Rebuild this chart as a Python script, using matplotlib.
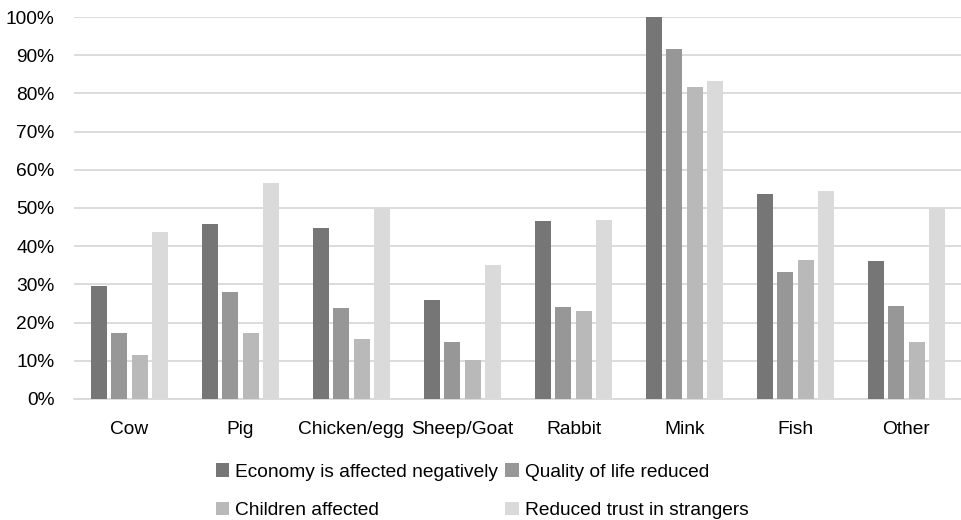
import matplotlib
matplotlib.use("Agg")
import matplotlib.pyplot as plt
from matplotlib.patches import Patch
from matplotlib.ticker import PercentFormatter
import numpy as np

plt.rcParams["font.family"] = ["Liberation Sans", "DejaVu Sans"]

categories = ["Cow", "Pig", "Chicken/egg", "Sheep/Goat", "Rabbit", "Mink", "Fish", "Other"]
economy = [29.6, 45.9, 44.7, 25.8, 46.6, 100.0, 53.7, 36.1]
quality = [17.4, 27.9, 23.8, 14.9, 24.0, 91.6, 33.2, 24.3]
children = [11.5, 17.4, 15.7, 10.2, 23.0, 81.8, 36.3, 14.8]
trust = [43.7, 56.5, 50.0, 35.2, 46.9, 83.2, 54.5, 50.0]

series = [
    ("Economy is affected negatively", economy, "#767676"),
    ("Quality of life reduced", quality, "#979797"),
    ("Children affected", children, "#b9b9b9"),
    ("Reduced trust in strangers", trust, "#dadada"),
]

fig = plt.figure(figsize=(9.62, 5.20), dpi=100)
ax = fig.add_axes([0.0769, 0.2327, 0.9231, 0.7346])

x = np.arange(len(categories))
step = 0.183
width = 0.144
handles = []
for i, (name, vals, color) in enumerate(series):
    ax.bar(x + (i - 1.5) * step, vals, width, color=color, zorder=3)
    handles.append(Patch(facecolor=color, label=name))

ax.set_xlim(-0.5, len(categories) - 0.5)
ax.set_ylim(0, 100)
ax.set_yticks(np.arange(0, 101, 10))
ax.yaxis.set_major_formatter(PercentFormatter(decimals=0))
ax.set_xticks(x)
ax.set_xticklabels(categories)
ax.grid(axis="y", color="#d9d9d9", linewidth=1.3, zorder=0)
ax.tick_params(axis="y", length=0, pad=14, labelsize=13.8, labelcolor="#000000")
ax.tick_params(axis="x", length=0, pad=16, labelsize=13.8)
for s in ["top", "right", "left"]:
    ax.spines[s].set_visible(False)
ax.spines["bottom"].set_color("#d9d9d9")
ax.spines["bottom"].set_linewidth(1.3)

# legend fills column-wise, so reorder to read row-wise
order = [0, 2, 1, 3]
fig.legend(handles=[handles[i] for i in order], ncol=2, loc="upper center",
           bbox_to_anchor=(482 / 962, 1 - 446 / 520), frameon=False,
           fontsize=13.8, handlelength=0.7, handleheight=0.7,
           handletextpad=0.3, columnspacing=0.4, labelspacing=1.1)

fig.savefig("out.png", dpi=100)
